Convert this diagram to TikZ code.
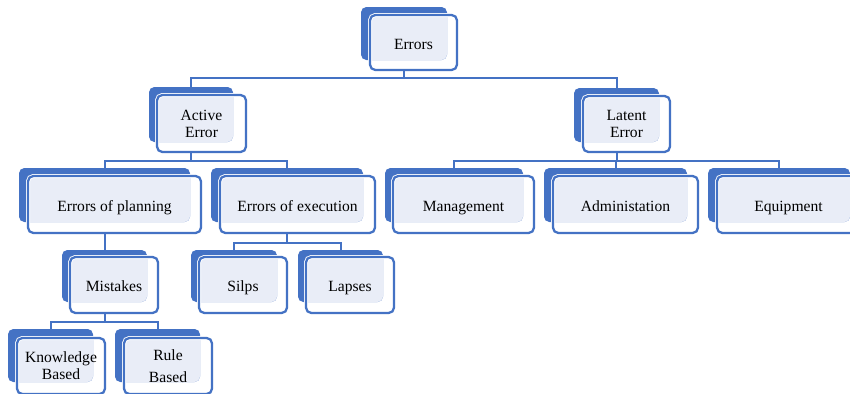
\documentclass[tikz,border=0pt]{standalone}
\usepackage{fontspec}
\setmainfont{Liberation Serif}
\usetikzlibrary{fit}
\definecolor{orgblue}{HTML}{4472C4}
\definecolor{orglight}{HTML}{E9EDF7}
\tikzset{
  backbox/.style={fill=orgblue, draw=none, rounded corners=4pt, inner sep=0pt, outer sep=0pt},
  frontbox/.style={draw=orgblue, line width=1.7pt, rounded corners=4pt, inner sep=0pt, outer sep=0pt,
    preaction={draw=white, line width=3.0pt}},
  orglabel/.style={align=center, inner sep=0pt, font=\fontsize{11.7}{12.75}\selectfont},
  oneline/.style={anchor=base, yshift=-4.9pt},
  twoline/.style={anchor=center},
  conn/.style={draw=orgblue, line width=1.5pt},
}
% #1 label placement, #2 name, #3/#4 corners of the solid back panel,
% #5/#6 corners of the framed front panel, #7 label
\newcommand{\orgunit}[7]{%
  \node[backbox, fit={#3 #4}] (#2-b) {};
  \begin{scope}
    \clip[rounded corners=4pt] #3 rectangle #4;
    \fill[orglight, rounded corners=4pt] #5 rectangle #6;
  \end{scope}
  \node[frontbox, fit={#5 #6}] (#2) {};
  \node[orglabel, #1] (#2-t) at (#2.center) {#7};
}
\begin{document}
\begin{tikzpicture}[x=0.75pt, y=-0.75pt]
\useasboundingbox (0,0) rectangle (850,393);

\orgunit{oneline}{errors}{(361,7)}{(447,60)}{(370,15)}{(457,70)}{Errors}
\orgunit{twoline}{active}{(149,87)}{(233,142)}{(157,95)}{(246,152)}{Active\\Error}
\orgunit{twoline}{latent}{(574,88)}{(659,142)}{(583,96)}{(670,152)}{Latent\\Error}
\orgunit{oneline}{planning}{(19,168)}{(190,222)}{(28,176)}{(201,233)}{Errors of planning}
\orgunit{oneline}{execution}{(211,168)}{(363,222)}{(220,176)}{(375,233)}{Errors of execution}
\orgunit{oneline}{management}{(385,168)}{(523,222)}{(393,176)}{(534,233)}{Management}
\orgunit{oneline}{admin}{(544,168)}{(687,222)}{(553,176)}{(698,233)}{Administation}
\orgunit{oneline}{equipment}{(708,168)}{(850,222)}{(717,176)}{(860,233)}{Equipment}
\orgunit{oneline}{mistakes}{(62,250)}{(147,302)}{(70,257)}{(158,313)}{Mistakes}
\orgunit{oneline}{slips}{(191,250)}{(277,302)}{(199,257)}{(287,313)}{Silps}
\orgunit{oneline}{lapses}{(298,250)}{(383,302)}{(306,257)}{(394,313)}{Lapses}
\orgunit{twoline}{knowledge}{(8,329)}{(93,382)}{(17,338)}{(105,394)}{Knowledge\\Based}
\orgunit{twoline}{rule}{(115,329)}{(200,382)}{(124,338)}{(212,394)}{Rule\\[4pt]Based}

% connectors
\draw[conn] (errors-b.center |- errors.south) -- ++(0,8) -| (active-b.north);
\draw[conn] (errors-b.center |- errors.south) -- ++(0,8) -| (latent-b.north);

\draw[conn] (active-b.center |- active.south) -- ++(0,8.5) -| (planning-b.north);
\draw[conn] (active-b.center |- active.south) -- ++(0,8.5) -| (execution-b.north);

\draw[conn] (latent-b.center |- latent.south) -- ++(0,8.5) -| (management-b.north);
\draw[conn] (latent-b.center |- latent.south) -- ++(0,8.5) -| (admin-b.north);
\draw[conn] (latent-b.center |- latent.south) -- ++(0,8.5) -| (equipment-b.north);

\draw[conn] (planning-b.center |- planning.south) -- (planning-b.center |- mistakes-b.north);

\draw[conn] (execution-b.center |- execution.south) -- ++(0,10) -| (slips-b.north);
\draw[conn] (execution-b.center |- execution.south) -- ++(0,10) -| (lapses-b.north);

\draw[conn] (mistakes-b.center |- mistakes.south) -- ++(0,9) -| (knowledge-b.north);
\draw[conn] (mistakes-b.center |- mistakes.south) -- ++(0,9) -| (rule-b.north);
\end{tikzpicture}
\end{document}
